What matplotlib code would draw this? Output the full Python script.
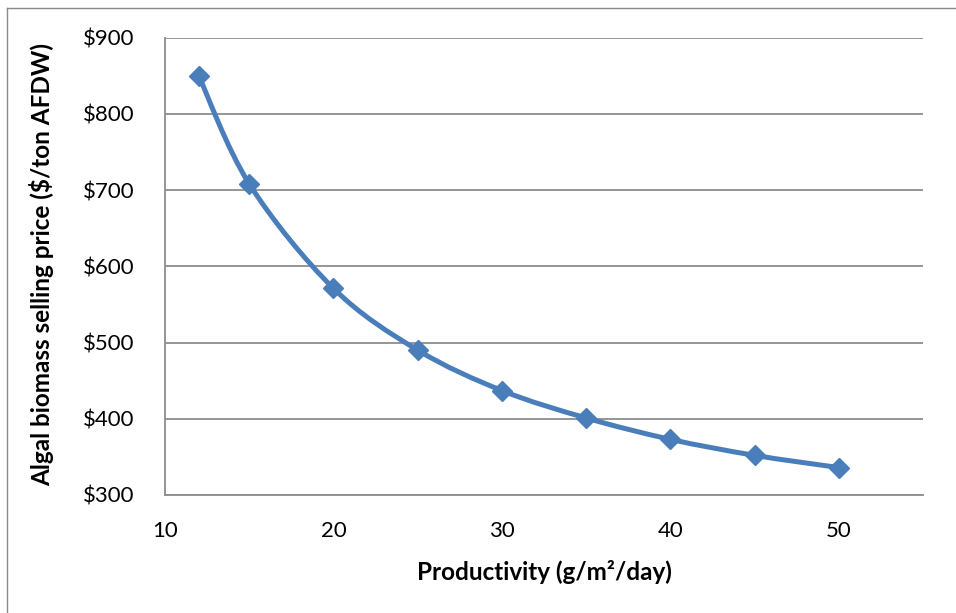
import matplotlib
matplotlib.use("Agg")
import matplotlib.pyplot as plt
from matplotlib.path import Path
from matplotlib.patches import PathPatch
from matplotlib.lines import Line2D
from matplotlib.ticker import FuncFormatter

# productivity (g/m2/day) vs selling price ($/ton AFDW)
productivity = [12, 15, 20, 25, 30, 35, 40, 45, 50]
price = [850, 708, 571, 490, 437, 401, 373, 352, 336]

x_ticks = [10, 20, 30, 40, 50]
y_ticks = [300, 400, 500, 600, 700, 800, 900]

blue = "#4A7EBB"
grid_grey = "#8C8C8C"

plt.rcParams["font.family"] = ["Lato", "DejaVu Sans"]

fig = plt.figure(figsize=(9.56, 6.13), dpi=100)
ax = fig.add_axes([0.1726, 0.1925, 0.9655 - 0.1726, 0.9388 - 0.1925])


def smooth_path(xs, ys, t=1 / 6):
    # Excel-like smoothed line: cubic bezier segments through the points
    verts = [(xs[0], ys[0])]
    codes = [Path.MOVETO]
    n = len(xs)
    for i in range(n - 1):
        x0, y0 = (xs[i - 1], ys[i - 1]) if i > 0 else (xs[i], ys[i])
        x1, y1 = xs[i], ys[i]
        x2, y2 = xs[i + 1], ys[i + 1]
        x3, y3 = (xs[i + 2], ys[i + 2]) if i + 2 < n else (x2, y2)
        c1 = (x1 + (x2 - x0) * t, y1 + (y2 - y0) * t)
        c2 = (x2 - (x3 - x1) * t, y2 - (y3 - y1) * t)
        verts += [c1, c2, (x2, y2)]
        codes += [Path.CURVE4] * 3
    return Path(verts, codes)


ax.add_patch(PathPatch(smooth_path(productivity, price), facecolor="none",
                       edgecolor=blue, lw=3.6, capstyle="round", zorder=3))
ax.plot(productivity, price, linestyle="none", marker="D", markersize=10,
        color=blue, zorder=4)

ax.set_xlim(10, 55)
ax.set_ylim(300, 900)
ax.set_xticks(x_ticks)
ax.set_yticks(y_ticks)
ax.yaxis.set_major_formatter(FuncFormatter(lambda v, p: f"${v:.0f}"))
ax.tick_params(length=0, labelsize=16, colors="black")
ax.tick_params(axis="y", pad=22)
ax.tick_params(axis="x", pad=19)

ax.grid(axis="y", color=grid_grey, lw=1.3)
ax.set_axisbelow(True)
for s in ["top", "right"]:
    ax.spines[s].set_visible(False)
for s in ["left", "bottom"]:
    ax.spines[s].set_color(grid_grey)
    ax.spines[s].set_linewidth(1.3)

fig.text(544 / 956, 1 - 572 / 613, "Productivity (g/m²/day)", fontsize=17.5,
         fontweight="bold", ha="center", va="center")
fig.text(42 / 956, 1 - 265 / 613, "Algal biomass selling price ($/ton AFDW)",
         fontsize=17.5, fontweight="bold", rotation=90, ha="center", va="center")

# chart border (left and top visible)
fig.add_artist(Line2D([7 / 956, 7 / 956], [0, 1 - 8 / 613], color="#8A8A8A", lw=1))
fig.add_artist(Line2D([7 / 956, 1], [1 - 8 / 613, 1 - 8 / 613], color="#8A8A8A", lw=1))

fig.savefig("out.png", dpi=100)
